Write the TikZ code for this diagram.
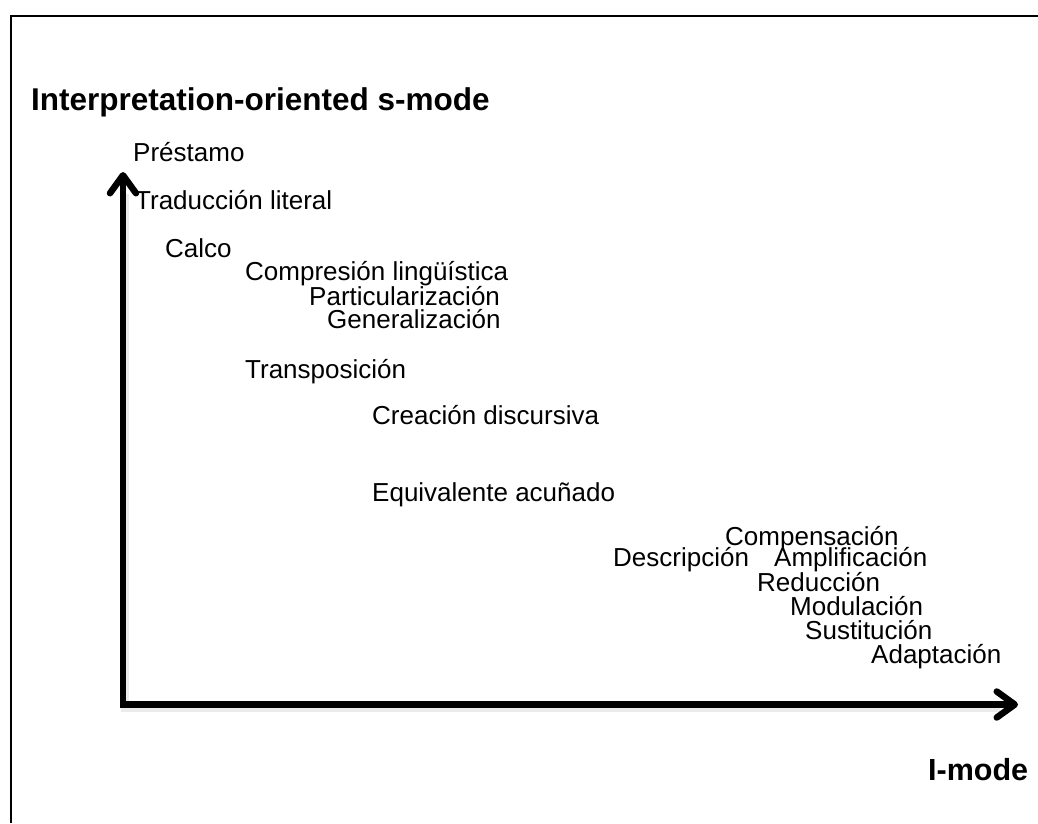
\documentclass[tikz,border=0pt]{standalone}
\usepackage{fontspec}
\setmainfont{Liberation Sans}
\usetikzlibrary{arrows.meta,calc}
\begin{document}
\begin{tikzpicture}[x=1pt,y=-1pt,
  lbl/.style={anchor=base west,inner sep=0pt,font=\fontsize{26}{30}\selectfont},
  ttl/.style={anchor=base west,inner sep=0pt,font=\fontsize{31.5}{36}\selectfont\bfseries},
  axis/.style={line width=6.5pt,line join=miter,
    {Straight Barb[length=18pt,width=26pt,line cap=round,line join=round]}-{Straight Barb[length=18pt,width=26pt,line cap=round,line join=round]}},
  axshadow/.style={line width=8pt,draw=black,opacity=0.08,line join=miter}]
\useasboundingbox (0,0) rectangle (1038,823);
\fill[white] (0,0) rectangle (1038,823);

% outer frame (left and top edges)
\draw[line width=2pt] (11,823) -- (11,16) -- (1038,16);

% axes with a faint drop shadow
\coordinate (O) at (123,704.5);
\coordinate (ytip) at (123,172);
\coordinate (xtip) at (1018,704.5);
\coordinate (Os) at (125,708);
\draw[axshadow] ($(ytip)+(2,22)$) -- (Os) -- ($(xtip)+(-18,3.5)$);
\draw[axis] (ytip) -- (O) -- (xtip);

% axis titles
\node[ttl] (smode) at (31,110) {Interpretation-oriented s-mode};
\node[ttl,font=\fontsize{30.5}{35}\selectfont\bfseries] (imode) at (928,780) {I-mode};

% techniques
\node[lbl] (prestamo) at (133,161) {Préstamo};
\node[lbl] (literal) at (135,209) {Traducción literal};
\node[lbl] (calco) at (165,257) {Calco};
\node[lbl] (compresion) at (245,280) {Compresión lingüística};
\node[lbl] (partic) at (309,305) {Particularización};
\node[lbl] (general) at (327,328) {Generalización};
\node[lbl] (transp) at (245,378) {Transposición};
\node[lbl] (creacion) at (372,424) {Creación discursiva};
\node[lbl] (equiv) at (372,501) {Equivalente acuñado};
\node[lbl] (compens) at (725,545) {Compensación};
\node[lbl] (descr) at (613,566) {Descripción};
\node[lbl] (ampl) at (774,566) {Amplificación};
\node[lbl] (reduc) at (757,591) {Reducción};
\node[lbl] (modul) at (790,615) {Modulación};
\node[lbl] (sustit) at (805,639) {Sustitución};
\node[lbl] (adapt) at (871,663) {Adaptación};
\end{tikzpicture}
\end{document}
